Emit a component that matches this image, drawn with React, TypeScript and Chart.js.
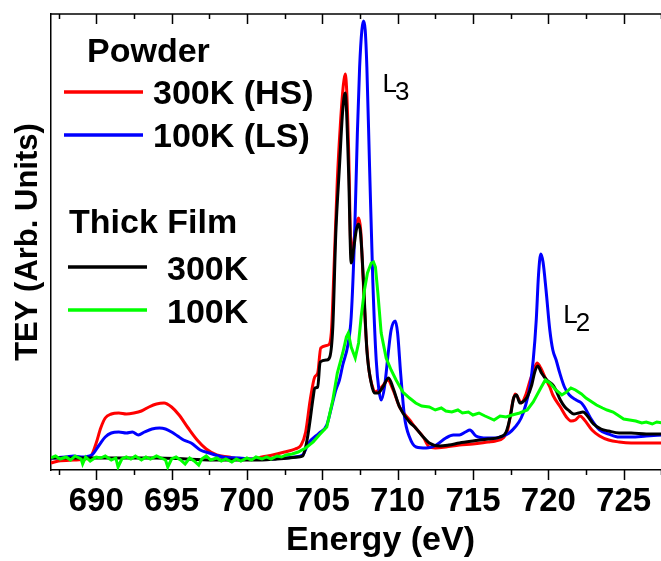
import React, { useEffect, useRef } from "react";
import { Chart, registerables } from "chart.js";

Chart.register(...registerables);

// ---------- axes ----------
const X_MIN = 687;
const X_MAX = 730.73;
const Y_MIN = 0;
const Y_MAX = 456;
const MAJOR_TICKS = [690, 695, 700, 705, 710, 715, 720, 725];
const MINOR_TICKS = [687.5, 692.5, 697.5, 702.5, 707.5, 712.5, 717.5, 722.5, 727.5];
const X_TITLE = "Energy (eV)";
const Y_TITLE = "TEY (Arb. Units)";

// ---------- legend / labels ----------
const GROUP_LABELS = ["Powder", "Thick Film"];
const SERIES_LABELS = ["300K (HS)", "100K (LS)", "300K", "100K"];
const SERIES_COLORS = ["#ff0000", "#0000ff", "#000000", "#00ff00"];
const PEAK_LABELS = [
  { main: "L", sub: "3", e: 709.0, i: 378 },
  { main: "L", sub: "2", e: 721.0, i: 147 },
];

// ---------- data: [energy (eV), TEY (arb.)] ----------
const powder300K: [number, number][] = [
  [687.0, 7], [687.5, 9], [688.5, 10], [689.3, 11], [689.7, 15], [690.0, 27], [690.3, 42], [690.6, 52],
  [691.0, 56], [691.5, 57], [692.0, 56], [692.5, 57], [693.0, 59], [693.5, 63], [694.0, 66], [694.5, 67],
  [695.0, 63], [695.5, 55], [696.1, 42], [696.7, 30], [697.3, 21], [698.0, 15], [698.8, 13], [699.5, 11],
  [700.5, 11], [701.0, 13], [701.7, 15], [702.5, 18], [703.2, 21], [703.6, 25], [703.9, 38], [704.2, 70],
  [704.5, 93], [704.7, 97], [704.9, 122], [705.4, 125], [705.6, 137], [705.8, 210], [706.0, 290], [706.2, 345],
  [706.4, 385], [706.52, 396], [706.62, 380], [706.75, 320], [706.92, 215], [707.05, 225], [707.25, 245],
  [707.41, 252], [707.55, 240], [707.7, 195], [707.9, 135], [708.1, 100], [708.3, 85], [708.5, 78],
  [708.75, 80], [709.0, 84], [709.35, 90], [709.7, 80], [710.13, 63], [710.8, 50], [711.2, 42], [711.7, 33],
  [712.1, 23], [712.5, 22], [713.2, 23], [714.1, 25], [715.0, 26], [716.0, 28], [716.5, 29], [717.0, 32],
  [717.3, 40], [717.6, 65], [717.8, 76], [718.0, 72], [718.2, 67], [718.5, 75], [718.8, 90], [719.0, 98],
  [719.25, 107], [719.5, 102], [719.8, 92], [720.1, 83], [720.3, 75], [720.8, 63], [721.2, 53], [721.5, 49],
  [721.8, 50], [722.1, 54], [722.4, 50], [722.9, 40], [723.4, 34], [724.0, 30], [724.7, 28], [725.5, 27],
  [726.5, 27], [727.6, 27],
];

const powder100K: [number, number][] = [
  [687.0, 12], [688.0, 13], [688.5, 14], [689.0, 13], [689.7, 15], [690.2, 25], [690.6, 33], [691.0, 37],
  [691.5, 38], [692.0, 37], [692.4, 38], [692.8, 35], [693.2, 38], [693.7, 41], [694.2, 42], [694.6, 41],
  [695.0, 38], [695.4, 34], [695.8, 30], [696.3, 27], [696.9, 20], [697.5, 17], [698.4, 13], [699.5, 12],
  [700.5, 11], [701.5, 11], [702.5, 12], [703.2, 13], [703.7, 15], [704.1, 27], [704.8, 37], [705.3, 45],
  [705.6, 62], [705.9, 80], [706.14, 90], [706.36, 105], [706.7, 125], [706.92, 153], [707.15, 237],
  [707.33, 337], [707.48, 403], [707.63, 440], [707.74, 449], [707.85, 440], [707.96, 403], [708.14, 303],
  [708.36, 187], [708.58, 110], [708.76, 80], [708.91, 70], [709.13, 83], [709.4, 120], [709.57, 140],
  [709.84, 149], [710.0, 137], [710.2, 97], [710.46, 53], [710.79, 33], [711.23, 23], [711.9, 22],
  [712.56, 25], [713.2, 32], [713.7, 35], [714.1, 35], [714.5, 38], [714.8, 40], [715.2, 34], [715.9, 32],
  [716.5, 32], [717.0, 34], [717.4, 37], [717.8, 43], [718.2, 52], [718.5, 65], [718.8, 85], [719.0, 110],
  [719.2, 150], [719.35, 195], [719.5, 216], [719.65, 208], [719.85, 180], [720.1, 140], [720.3, 120],
  [720.52, 110], [720.74, 98], [721.07, 83], [721.4, 75], [721.85, 70], [722.2, 67], [722.4, 63],
  [722.8, 52], [723.4, 40], [724.0, 36], [724.7, 33], [725.5, 33], [726.5, 34], [727.6, 35],
];

const film300K: [number, number][] = [
  [687.0, 12], [688.0, 12], [690.0, 12], [692.0, 12], [694.0, 12], [696.0, 11], [698.0, 10], [700.0, 10],
  [701.0, 10], [702.0, 11], [702.8, 12], [703.4, 13], [703.7, 14], [703.9, 23], [704.1, 40], [704.4, 73],
  [704.5, 82], [704.7, 83], [704.86, 108], [705.3, 110], [705.5, 113], [705.7, 143], [705.9, 237],
  [706.14, 303], [706.36, 360], [706.52, 377], [706.6, 363], [706.75, 297], [706.92, 207], [707.1, 223],
  [707.26, 240], [707.41, 246], [707.54, 237], [707.74, 187], [707.96, 120], [708.25, 87], [708.47, 77],
  [708.69, 77], [709.02, 83], [709.4, 92], [709.7, 82], [710.13, 63], [710.79, 48], [711.2, 42], [711.7, 33],
  [712.1, 27], [712.8, 24], [713.4, 25], [714.1, 27], [715.0, 29], [716.0, 31], [716.8, 33], [717.2, 38],
  [717.5, 55], [717.7, 72], [717.9, 75], [718.1, 67], [718.3, 68], [718.6, 73], [718.9, 85], [719.1, 98],
  [719.3, 104], [719.55, 97], [719.9, 90], [720.3, 85], [720.5, 80], [720.8, 70], [721.1, 63], [721.4, 59],
  [721.7, 56], [722.0, 57], [722.3, 58], [722.6, 54], [723.0, 46], [723.5, 41], [724.0, 39], [724.7, 37],
  [725.5, 37], [726.5, 36], [727.6, 36],
];

const film100K: [number, number][] = [
  [687.0, 12], [687.3, 14], [687.6, 11], [688.0, 13], [688.3, 10], [688.6, 14], [689.0, 11], [689.1, 6],
  [689.3, 13], [689.6, 9], [690.0, 13], [690.3, 12], [690.6, 14], [691.0, 10], [691.3, 12], [691.45, 3],
  [691.7, 11], [692.0, 13], [692.3, 11], [692.6, 14], [693.0, 10], [693.3, 13], [693.6, 11], [694.0, 14],
  [694.3, 12], [694.6, 10], [694.75, 3], [695.0, 11], [695.3, 13], [695.6, 10], [695.9, 6], [696.2, 12],
  [696.5, 9], [696.8, 5], [697.0, 11], [697.3, 14], [697.6, 10], [698.0, 12], [698.3, 9], [698.6, 11],
  [699.0, 8], [699.3, 11], [699.6, 9], [700.0, 12], [700.3, 10], [700.6, 13], [701.0, 11], [701.3, 13],
  [701.6, 11], [702.0, 14], [702.3, 13], [702.6, 15], [703.0, 16], [703.4, 18], [703.9, 22], [704.4, 28],
  [704.8, 35], [705.3, 43], [705.7, 70], [706.0, 97], [706.36, 117], [706.6, 133], [706.73, 137],
  [706.92, 123], [707.19, 112], [707.41, 127], [707.58, 153], [707.8, 180], [708.0, 197], [708.25, 207],
  [708.4, 208], [708.53, 203], [708.69, 177], [708.91, 137], [709.24, 112], [709.57, 100], [709.9, 90],
  [710.35, 78], [710.79, 72], [711.2, 67], [711.6, 64], [712.1, 63], [712.5, 60], [712.9, 62], [713.2, 59],
  [713.6, 58], [714.0, 60], [714.3, 57], [714.7, 58], [715.0, 55], [715.4, 57], [715.8, 54], [716.1, 52],
  [716.4, 50], [716.8, 54], [717.2, 53], [717.6, 55], [718.1, 57], [718.6, 60], [719.0, 68], [719.5, 82],
  [719.8, 90], [720.1, 87], [720.5, 80], [720.9, 75], [721.2, 78], [721.5, 82], [721.8, 80], [722.2, 76],
  [722.5, 72], [722.9, 68], [723.2, 65], [723.6, 62], [723.9, 60], [724.3, 58], [724.6, 55], [725.0, 51],
  [725.4, 50], [725.8, 49], [726.2, 47], [726.5, 48], [726.9, 46], [727.2, 48], [727.6, 47],
];

const SERIES = [powder300K, powder100K, film300K, film100K];
const DRAW_ORDER = [3, 2, 1, 0];

// ---------- styling ----------
const FONT = '"Liberation Sans", Arial, sans-serif';
const LEGEND_LAYOUT = {
  groups: [
    { x: 87, y: 62 },
    { x: 69, y: 233 },
  ],
  entries: [
    { x0: 64, x1: 143, y: 92, tx: 153, ty: 104 },
    { x0: 64, x1: 143, y: 135, tx: 153, ty: 147 },
    { x0: 68, x1: 147, y: 267, tx: 167, ty: 280 },
    { x0: 68, x1: 147, y: 310, tx: 167, ty: 323 },
  ],
};

const decorPlugin = {
  id: "decor",
  afterDraw(chart: any) {
    const { ctx, chartArea, scales } = chart;
    const { left, right, top, bottom } = chartArea;
    const xs = scales.x;
    const ys = scales.y;
    ctx.save();
    ctx.strokeStyle = "#000";
    ctx.lineWidth = 1.5;
    ctx.beginPath();
    ctx.moveTo(left, top);
    ctx.lineTo(right, top);
    ctx.stroke();
    const tick = (v: number, len: number) => {
      const px = Math.round(xs.getPixelForValue(v)) + 0.5;
      ctx.beginPath();
      ctx.moveTo(px, bottom);
      ctx.lineTo(px, bottom + len);
      ctx.moveTo(px, top);
      ctx.lineTo(px, top + len);
      ctx.stroke();
    };
    MAJOR_TICKS.forEach((v) => tick(v, 10));
    MINOR_TICKS.forEach((v) => tick(v, 5));

    // legend
    ctx.fillStyle = "#000";
    ctx.textAlign = "left";
    ctx.textBaseline = "alphabetic";
    ctx.font = `bold 34px ${FONT}`;
    GROUP_LABELS.forEach((g, k) => {
      ctx.fillText(g, LEGEND_LAYOUT.groups[k].x, LEGEND_LAYOUT.groups[k].y);
    });
    SERIES_LABELS.forEach((lab, k) => {
      const e = LEGEND_LAYOUT.entries[k];
      ctx.strokeStyle = SERIES_COLORS[k];
      ctx.lineWidth = 3.5;
      ctx.beginPath();
      ctx.moveTo(e.x0, e.y);
      ctx.lineTo(e.x1, e.y);
      ctx.stroke();
      ctx.fillStyle = "#000";
      ctx.fillText(lab, e.tx, e.ty);
    });

    // peak labels
    ctx.font = `26px ${FONT}`;
    PEAK_LABELS.forEach((p) => {
      const px = xs.getPixelForValue(p.e);
      const py = ys.getPixelForValue(p.i);
      ctx.fillText(p.main, px, py);
      const w = ctx.measureText(p.main).width;
      ctx.fillText(p.sub, px + w - 2, py + 8);
    });
    ctx.restore();
  },
};

export default function App() {
  const ref = useRef<HTMLCanvasElement | null>(null);
  useEffect(() => {
    if (!ref.current) return;
    const chart = new Chart(ref.current, {
      type: "line",
      data: {
        datasets: SERIES.map((s, k) => ({
          label: SERIES_LABELS[k],
          data: s.map(([x, y]) => ({ x, y })),
          borderColor: SERIES_COLORS[k],
          backgroundColor: SERIES_COLORS[k],
          borderWidth: 3,
          pointRadius: 0,
          fill: false,
          order: DRAW_ORDER[k],
          tension: k === 3 ? 0 : 0.4,
          cubicInterpolationMode: k === 3 ? "default" : "monotone",
        })),
      },
      options: {
        responsive: false,
        animation: false,
        layout: { padding: { top: 14, left: 0, right: 0, bottom: 0 } },
        plugins: { legend: { display: false }, tooltip: { enabled: false } },
        scales: {
          x: {
            type: "linear",
            min: X_MIN,
            max: X_MAX,
            afterFit: (s: any) => {
              s.height = 91;
            },
            afterBuildTicks: (s: any) => {
              s.ticks = MAJOR_TICKS.map((v) => ({ value: v }));
            },
            grid: { display: false, drawTicks: false },
            border: { display: true, color: "#000", width: 1.5 },
            ticks: {
              color: "#000",
              padding: 15,
              autoSkip: false,
              maxRotation: 0,
              font: { family: FONT, weight: "bold", size: 33, lineHeight: 1 },
              callback: (v: any) => String(v),
            },
            title: {
              display: true,
              text: X_TITLE,
              color: "#000",
              font: { family: FONT, weight: "bold", size: 34, lineHeight: 1 },
              padding: { top: 0, bottom: 3 },
            },
          },
          y: {
            type: "linear",
            min: Y_MIN,
            max: Y_MAX,
            afterFit: (s: any) => {
              s.width = 51;
            },
            grid: { display: false, drawTicks: false },
            border: { display: true, color: "#000", width: 1.5 },
            ticks: { display: false },
            title: {
              display: true,
              text: Y_TITLE,
              color: "#000",
              font: { family: FONT, weight: "bold", size: 31, lineHeight: 1 },
              padding: { top: 13, bottom: 0 },
            },
          },
        },
      },
      plugins: [decorPlugin],
    } as any);
    return () => chart.destroy();
  }, []);
  return (
    <div
      style={{
        position: "fixed",
        left: 0,
        top: 0,
        width: 661,
        height: 561,
        overflow: "hidden",
        background: "#fff",
      }}
    >
      <canvas ref={ref} width={710} height={561} style={{ display: "block" }} />
    </div>
  );
}
